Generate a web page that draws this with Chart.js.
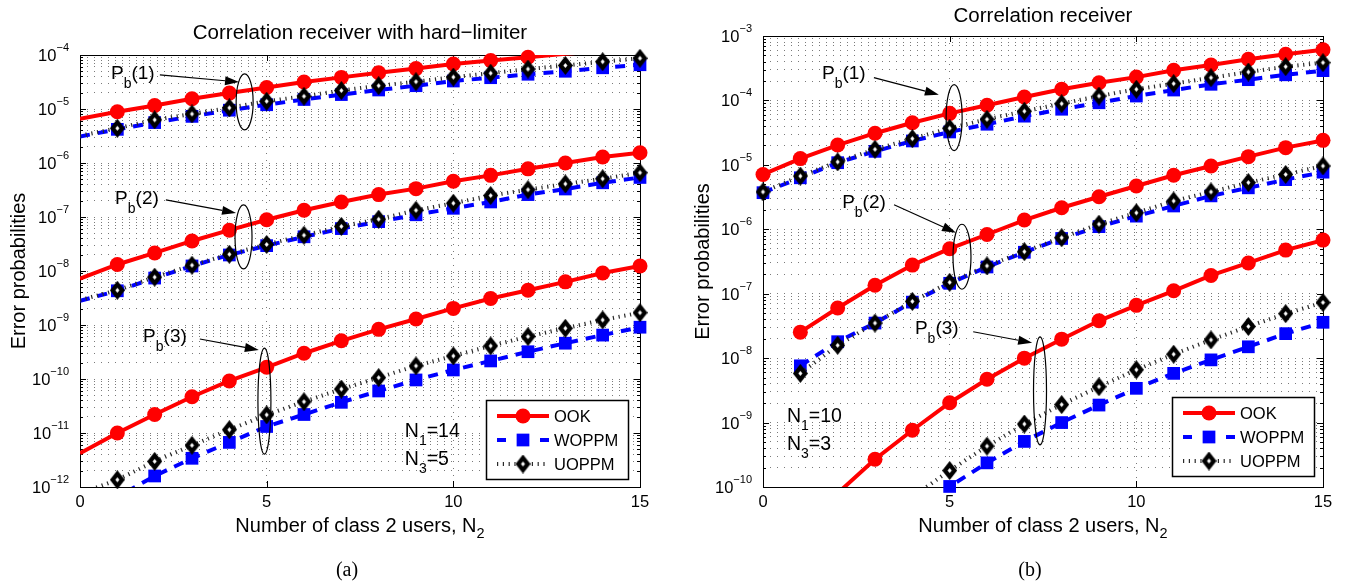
<!DOCTYPE html>
<html>
<head>
<meta charset="utf-8">
<script src="https://cdn.jsdelivr.net/npm/chart.js@4.4.0/dist/chart.umd.min.js"></script>
<style>
html,body{margin:0;padding:0;background:#fff;}
#wrap{position:relative;width:1350px;height:582px;overflow:hidden;background:#fff;}
.pane{position:absolute;top:0;width:675px;height:582px;}
canvas{display:block;}
</style>
</head>
<body>
<div id="wrap">
  <div class="pane" style="left:0"><canvas id="chartA" width="675" height="582" style="width:675px;height:582px"></canvas></div>
  <div class="pane" style="left:675px"><canvas id="chartB" width="675" height="582" style="width:675px;height:582px"></canvas></div>
</div>
<script>
// ---------- categories ----------
const N2 = [0,1,2,3,4,5,6,7,8,9,10,11,12,13,14,15];
const X_TICKS = [0,5,10,15];
const SCHEME_NAMES = ['OOK','WOPPM','UOPPM'];

// ---------- (a) Correlation receiver with hard-limiter, N1=14, N3=5 ----------
const A_Y_RANGE = [1e-12, 1e-4];
const A_OOK_1   = [6.6e-6, 8.9e-6, 1.16e-5, 1.55e-5, 1.97e-5, 2.5e-5, 3.16e-5, 3.85e-5, 4.7e-5, 5.6e-5, 6.8e-5, 7.9e-5, 9.1e-5, 1.05e-4, 1.2e-4, 1.38e-4];
const A_WOPPM_1 = [3.1e-6, 4.2e-6, 5.6e-6, 7.3e-6, 9.5e-6, 1.2e-5, 1.5e-5, 1.85e-5, 2.25e-5, 2.7e-5, 3.3e-5, 3.8e-5, 4.4e-5, 5.0e-5, 5.8e-5, 6.6e-5];
const A_UOPPM_1 = [3.2e-6, 4.4e-6, 6.3e-6, 8.1e-6, 1.05e-5, 1.39e-5, 1.72e-5, 2.2e-5, 2.7e-5, 3.2e-5, 3.9e-5, 4.6e-5, 5.5e-5, 6.4e-5, 7.5e-5, 8.7e-5];
const A_OOK_2   = [7.2e-9, 1.32e-8, 2.16e-8, 3.6e-8, 5.7e-8, 8.9e-8, 1.33e-7, 1.9e-7, 2.6e-7, 3.35e-7, 4.6e-7, 5.9e-7, 7.8e-7, 1.0e-6, 1.29e-6, 1.55e-6];
const A_WOPPM_2 = [2.8e-9, 4.3e-9, 7.4e-9, 1.24e-8, 1.98e-8, 2.95e-8, 4.3e-8, 6.1e-8, 8.2e-8, 1.1e-7, 1.45e-7, 1.9e-7, 2.6e-7, 3.3e-7, 4.3e-7, 5.4e-7];
const A_UOPPM_2 = [2.9e-9, 4.4e-9, 7.7e-9, 1.28e-8, 2.04e-8, 3.1e-8, 4.6e-8, 6.7e-8, 9.1e-8, 1.33e-7, 1.8e-7, 2.5e-7, 3.2e-7, 4.1e-7, 5.1e-7, 6.6e-7];
const A_OOK_3   = [4.2e-12, 1.0e-11, 2.2e-11, 4.7e-11, 9.2e-11, 1.65e-10, 3.0e-10, 5.1e-10, 8.3e-10, 1.29e-9, 2.03e-9, 3.1e-9, 4.4e-9, 6.3e-9, 9.2e-9, 1.24e-8];
const A_WOPPM_3 = [2.5e-13, 6.5e-13, 1.6e-12, 3.4e-12, 6.7e-12, 1.32e-11, 2.2e-11, 3.7e-11, 6.0e-11, 9.6e-11, 1.47e-10, 2.16e-10, 3.2e-10, 4.6e-10, 6.5e-10, 9.1e-10];
const A_UOPPM_3 = [7.5e-13, 1.36e-12, 2.98e-12, 5.9e-12, 1.15e-11, 2.17e-11, 3.8e-11, 6.5e-11, 1.06e-10, 1.75e-10, 2.67e-10, 4.1e-10, 6.1e-10, 8.7e-10, 1.24e-9, 1.69e-9];

// ---------- (b) Correlation receiver, N1=10, N3=3 ----------
const B_Y_RANGE = [1e-10, 1e-3];
const B_OOK_1   = [7.1e-6, 1.25e-5, 2.03e-5, 3.1e-5, 4.5e-5, 6.3e-5, 8.4e-5, 1.13e-4, 1.49e-4, 1.88e-4, 2.3e-4, 2.93e-4, 3.55e-4, 4.35e-4, 5.2e-4, 6.1e-4];
const B_WOPPM_1 = [3.7e-6, 6.3e-6, 1.08e-5, 1.62e-5, 2.35e-5, 3.24e-5, 4.27e-5, 5.7e-5, 7.3e-5, 9.2e-5, 1.17e-4, 1.45e-4, 1.78e-4, 2.1e-4, 2.5e-4, 2.9e-4];
const B_UOPPM_1 = [3.8e-6, 6.7e-6, 1.11e-5, 1.74e-5, 2.55e-5, 3.7e-5, 5.1e-5, 6.8e-5, 8.9e-5, 1.17e-4, 1.49e-4, 1.82e-4, 2.25e-4, 2.76e-4, 3.34e-4, 3.86e-4];
const B_OOK_2   = [null, 2.53e-8, 6.0e-8, 1.35e-7, 2.78e-7, 5.0e-7, 8.3e-7, 1.39e-6, 2.16e-6, 3.2e-6, 4.7e-6, 6.9e-6, 9.6e-6, 1.34e-5, 1.85e-5, 2.4e-5];
const B_WOPPM_2 = [null, 7.6e-9, 1.8e-8, 3.5e-8, 7.4e-8, 1.45e-7, 2.6e-7, 4.4e-7, 7.2e-7, 1.1e-6, 1.6e-6, 2.3e-6, 3.3e-6, 4.4e-6, 5.9e-6, 7.7e-6];
const B_UOPPM_2 = [null, 5.8e-9, 1.58e-8, 3.5e-8, 7.6e-8, 1.5e-7, 2.7e-7, 4.5e-7, 7.4e-7, 1.2e-6, 1.8e-6, 2.75e-6, 3.8e-6, 5.3e-6, 7.1e-6, 9.6e-6];
const B_OOK_3   = [null, 2.0e-11, 8.0e-11, 2.7e-10, 7.6e-10, 2.03e-9, 4.7e-9, 1.0e-8, 1.97e-8, 3.8e-8, 6.6e-8, 1.11e-7, 1.92e-7, 3.0e-7, 4.75e-7, 6.8e-7];
const B_WOPPM_3 = [null, null, null, null, 4.0e-11, 1.02e-10, 2.37e-10, 5.1e-10, 1.0e-9, 1.87e-9, 3.4e-9, 5.8e-9, 9.4e-9, 1.5e-8, 2.4e-8, 3.6e-8];
const B_UOPPM_3 = [null, null, null, null, 7.0e-11, 1.8e-10, 4.3e-10, 9.5e-10, 1.9e-9, 3.6e-9, 6.6e-9, 1.15e-8, 1.92e-8, 3.1e-8, 4.9e-8, 7.3e-8];

// ---------- styling ----------
const FONT = '"Liberation Sans", Arial, Helvetica, sans-serif';
const SERIF = '"Liberation Serif", "Times New Roman", serif';
const RED = '#ff0000', BLUE = '#0000ff', DOT = '#2a2a2a';

const diamondImg = (() => {
  const c = document.createElement('canvas'); c.width = 15; c.height = 19;
  const g = c.getContext('2d');
  g.fillStyle = '#000';
  g.beginPath(); g.moveTo(7.5,0); g.lineTo(15,9.5); g.lineTo(7.5,19); g.lineTo(0,9.5); g.closePath(); g.fill();
  g.fillStyle = '#fff';
  g.beginPath(); g.moveTo(7.5,7); g.lineTo(9.5,9.5); g.lineTo(7.5,12); g.lineTo(5.5,9.5); g.closePath(); g.fill();
  return c;
})();

const STYLE = {
  OOK:   {color: RED,  width: 4, dash: [],         pointStyle: 'circle', radius: 7.5, order: 4},
  WOPPM: {color: BLUE, width: 4, dash: [10, 8],    pointStyle: 'rect',   radius: 9,   order: 2},
  UOPPM: {color: DOT,  width: 4, dash: [1.2, 4.6], pointStyle: diamondImg, radius: 8, order: 0}
};

function rich(ctx, x, y, parts, align) {
  let total = 0;
  const ws = parts.map(p => { ctx.font = p[1] + 'px ' + FONT; const w = ctx.measureText(p[0]).width; total += w; return w; });
  let cx = align === 'right' ? x - total : (align === 'center' ? x - total / 2 : x);
  ctx.textAlign = 'left'; ctx.textBaseline = 'alphabetic';
  parts.forEach((p, i) => { ctx.font = p[1] + 'px ' + FONT; ctx.fillText(p[0], cx, y + p[2]); cx += ws[i]; });
}

function logTicks(min, max) {
  const out = [];
  const e0 = Math.round(Math.log10(min)), e1 = Math.round(Math.log10(max));
  for (let e = e0; e <= e1; e++) {
    for (let m = 1; m <= 9; m++) {
      if (e === e1 && m > 1) break;
      out.push(parseFloat((m * Math.pow(10, e)).toPrecision(3)));
    }
  }
  return out;
}

function drawMarker(ctx, name, x, y) {
  const s = STYLE[name];
  if (name === 'UOPPM') { ctx.drawImage(diamondImg, x - 7.5, y - 9.5); return; }
  ctx.fillStyle = s.color;
  if (name === 'OOK') { ctx.beginPath(); ctx.arc(x, y, s.radius, 0, Math.PI * 2); ctx.fill(); }
  else { const h = s.radius * Math.SQRT1_2; ctx.fillRect(x - h, y - h, 2 * h, 2 * h); }
}

function makeDecor(spec) {
  return {
    id: 'decor_' + spec.id,
    beforeDatasetsDraw(chart) {
      const {ctx, chartArea: a, scales: {x, y}} = chart;
      ctx.save();
      ctx.strokeStyle = '#000'; ctx.lineWidth = 1;
      ctx.beginPath();
      spec.yTicks.forEach(v => {
        const py = Math.round(y.getPixelForValue(v)) + 0.5;
        const major = Math.abs(Math.log10(v) - Math.round(Math.log10(v))) < 1e-6;
        const L = major ? 6 : 3;
        ctx.moveTo(a.left, py); ctx.lineTo(a.left + L, py);
        ctx.moveTo(a.right, py); ctx.lineTo(a.right - L, py);
      });
      X_TICKS.forEach(v => {
        const px = Math.round(x.getPixelForValue(v)) + 0.5;
        ctx.moveTo(px, a.bottom); ctx.lineTo(px, a.bottom - 6);
        ctx.moveTo(px, a.top); ctx.lineTo(px, a.top + 6);
      });
      ctx.stroke();
      ctx.strokeRect(Math.round(a.left) + 0.5, Math.round(a.top) + 0.5, Math.round(a.right - a.left), Math.round(a.bottom - a.top));
      ctx.restore();
    },
    afterDatasetsDraw(chart) {
      const {ctx, chartArea: a, scales: {x, y}} = chart;
      ctx.save();
      ctx.strokeStyle = '#000'; ctx.fillStyle = '#000'; ctx.lineWidth = 1.2;
      // ellipses
      spec.ellipses.forEach(e => {
        ctx.beginPath();
        ctx.ellipse(x.getPixelForValue(e.x), y.getPixelForValue(e.y), e.rx, e.ry, 0, 0, Math.PI * 2);
        ctx.stroke();
      });
      // arrows
      spec.arrows.forEach(r => {
        const x1 = x.getPixelForValue(r.x1), y1 = y.getPixelForValue(r.y1);
        const x2 = x.getPixelForValue(r.x2), y2 = y.getPixelForValue(r.y2);
        const ang = Math.atan2(y2 - y1, x2 - x1), L = 14, W = 4.5;
        const bx = x2 - L * Math.cos(ang), by = y2 - L * Math.sin(ang);
        ctx.beginPath(); ctx.moveTo(x1, y1); ctx.lineTo(bx, by); ctx.stroke();
        ctx.beginPath();
        ctx.moveTo(x2, y2);
        ctx.lineTo(bx + W * Math.sin(ang), by - W * Math.cos(ang));
        ctx.lineTo(bx - W * Math.sin(ang), by + W * Math.cos(ang));
        ctx.closePath(); ctx.fill();
      });
      // labels P_b(k)
      spec.labels.forEach(l => {
        rich(ctx, x.getPixelForValue(l.x), y.getPixelForValue(l.y) + 7, [['P', 19, 0], ['b', 14, 9], [l.t, 19, 0]], 'left');
      });
      // notes N1 / N3
      spec.notes.forEach(n => {
        rich(ctx, x.getPixelForValue(n.x), y.getPixelForValue(n.y) + 7, [['N', 19.5, 0], [n.sub, 14, 8], [n.t, 19.5, 0]], 'left');
      });
      // legend
      const w = 142, h = 79;
      const L = a.right - spec.legInset[0] - w, T = a.bottom - spec.legInset[1] - h;
      ctx.fillStyle = '#fff'; ctx.fillRect(L, T, w, h);
      ctx.strokeStyle = '#000'; ctx.lineWidth = 1.5; ctx.strokeRect(L + 0.5, T + 0.5, w, h);
      SCHEME_NAMES.forEach((name, i) => {
        const yy = T + 16 + 24 * i, s = STYLE[name];
        const xa = L + 11, xb = L + 63, xm = L + 37;
        ctx.strokeStyle = s.color; ctx.lineWidth = s.width;
        if (name === 'WOPPM') {
          ctx.beginPath(); ctx.moveTo(xa, yy); ctx.lineTo(xa + 9, yy); ctx.moveTo(xb - 9, yy); ctx.lineTo(xb, yy); ctx.stroke();
        } else {
          ctx.setLineDash(s.dash);
          ctx.beginPath(); ctx.moveTo(xa, yy); ctx.lineTo(xb, yy); ctx.stroke();
          ctx.setLineDash([]);
        }
        drawMarker(ctx, name, xm, yy);
        ctx.fillStyle = '#000'; ctx.font = '16.5px ' + FONT;
        ctx.textAlign = 'left'; ctx.textBaseline = 'middle';
        ctx.fillText(name, L + 68, yy + 1);
      });
      ctx.restore();
    },
    afterDraw(chart) {
      const {ctx, chartArea: a, scales: {x, y}} = chart;
      ctx.save();
      ctx.fillStyle = '#000';
      // y tick labels
      spec.yTicks.forEach(v => {
        const e = Math.round(Math.log10(v));
        if (Math.abs(Math.log10(v) - e) > 1e-6) return;
        const py = y.getPixelForValue(v);
        rich(ctx, a.left - 11, py + 6, [['10', 16.5, 0], ['\u2212' + (-e), 11, -10]], 'right');
      });
      // x tick labels
      ctx.font = '16.5px ' + FONT; ctx.textAlign = 'center'; ctx.textBaseline = 'middle';
      X_TICKS.forEach(v => ctx.fillText(String(v), x.getPixelForValue(v), a.bottom + 15));
      // x title
      const cx = (a.left + a.right) / 2;
      rich(ctx, cx, a.bottom + 45, [['Number of class 2 users, N', 20, 0], ['2', 14.5, 6]], 'center');
      // y title
      ctx.save();
      ctx.translate(spec.yTitleX, (a.top + a.bottom) / 2);
      ctx.rotate(-Math.PI / 2);
      ctx.font = '20px ' + FONT; ctx.textAlign = 'center'; ctx.textBaseline = 'middle';
      ctx.fillText('Error probabilities', 0, 0);
      ctx.restore();
      // title
      ctx.font = '20.5px ' + FONT; ctx.textAlign = 'center'; ctx.textBaseline = 'middle';
      ctx.fillText(spec.title, cx, spec.titleY);
      // caption
      ctx.font = '20px ' + SERIF; ctx.textAlign = 'center'; ctx.textBaseline = 'middle';
      ctx.fillText(spec.caption, cx - 13, 571);
      ctx.restore();
    }
  };
}

function buildChart(canvasId, spec) {
  const [ymin, ymax] = spec.range;
  spec.yTicks = logTicks(ymin, ymax);
  const datasets = [];
  spec.groups.forEach((g, gi) => {
    SCHEME_NAMES.forEach(name => {
      const arr = g[name], s = STYLE[name];
      datasets.push({
        label: name + ' Pb(' + (gi + 1) + ')',
        data: N2.map((xv, i) => ({x: xv, y: arr[i]})),
        borderColor: s.color, borderWidth: s.width, borderDash: s.dash,
        backgroundColor: s.color, pointRadius: 0, pointHoverRadius: 0,
        tension: 0, fill: false, order: s.order + 1
      });
      datasets.push({
        label: name + ' markers Pb(' + (gi + 1) + ')',
        data: N2.map((xv, i) => {
          const v = arr[i];
          const ok = i >= spec.markerFrom && v != null && v >= ymin * 0.999 && v <= ymax * 1.001;
          return {x: xv, y: ok ? v : null};
        }),
        showLine: false, clip: false,
        pointStyle: s.pointStyle, pointRadius: s.radius, pointHoverRadius: s.radius,
        pointBackgroundColor: s.color, pointBorderColor: s.color, pointBorderWidth: 0,
        order: s.order
      });
    });
  });
  return new Chart(document.getElementById(canvasId), {
    type: 'line',
    data: {datasets},
    options: {
      responsive: false, animation: false, devicePixelRatio: 1, events: [],
      layout: {padding: spec.pad},
      plugins: {legend: {display: false}, tooltip: {enabled: false}, title: {display: false}},
      scales: {
        x: {
          type: 'linear', min: 0, max: 15,
          afterBuildTicks: s => { s.ticks = X_TICKS.map(v => ({value: v})); },
          afterFit: s => { s.height = spec.xAxisH; },
          ticks: {display: false},
          grid: {color: '#7a7a7a', lineWidth: 1, drawTicks: false},
          border: {display: false, dash: [1, 6]}
        },
        y: {
          type: 'logarithmic', min: ymin, max: ymax,
          afterBuildTicks: s => { s.ticks = spec.yTicks.map(v => ({value: v})); },
          afterFit: s => { s.width = spec.yAxisW; },
          ticks: {display: false},
          grid: {color: '#7a7a7a', lineWidth: 1, drawTicks: false},
          border: {display: false, dash: [1, 6]}
        }
      }
    },
    plugins: [makeDecor(spec)]
  });
}

buildChart('chartA', {
  id: 'a', range: A_Y_RANGE, markerFrom: 1,
  groups: [
    {OOK: A_OOK_1, WOPPM: A_WOPPM_1, UOPPM: A_UOPPM_1},
    {OOK: A_OOK_2, WOPPM: A_WOPPM_2, UOPPM: A_UOPPM_2},
    {OOK: A_OOK_3, WOPPM: A_WOPPM_3, UOPPM: A_UOPPM_3}
  ],
  pad: {left: 0, right: 35, top: 55, bottom: 0}, yAxisW: 80, xAxisH: 95,
  title: 'Correlation receiver with hard\u2212limiter', titleY: 33, caption: '(a)', yTitleX: 19.5,
  legInset: [12, 8],
  ellipses: [{x: 4.41, y: 1.35e-5, rx: 8.5, ry: 28}, {x: 4.38, y: 4.27e-8, rx: 8.5, ry: 32}, {x: 4.94, y: 3.9e-11, rx: 6.5, ry: 53}],
  arrows: [{x1: 2.14, y1: 4.27e-5, x2: 4.26, y2: 3.16e-5}, {x1: 2.30, y1: 2.07e-7, x2: 4.18, y2: 1.19e-7}, {x1: 3.21, y1: 5.5e-10, x2: 4.79, y2: 3.44e-10}],
  labels: [{x: 0.83, y: 4.84e-5, t: '(1)'}, {x: 0.94, y: 2.34e-7, t: '(2)'}, {x: 1.69, y: 6.5e-10, t: '(3)'}],
  notes: [{x: 8.7, y: 1.14e-11, sub: '1', t: '=14'}, {x: 8.7, y: 3.5e-12, sub: '3', t: '=5'}]
});

buildChart('chartB', {
  id: 'b', range: B_Y_RANGE, markerFrom: 0,
  groups: [
    {OOK: B_OOK_1, WOPPM: B_WOPPM_1, UOPPM: B_UOPPM_1},
    {OOK: B_OOK_2, WOPPM: B_WOPPM_2, UOPPM: B_UOPPM_2},
    {OOK: B_OOK_3, WOPPM: B_WOPPM_3, UOPPM: B_UOPPM_3}
  ],
  pad: {left: 0, right: 27, top: 36, bottom: 0}, yAxisW: 88, xAxisH: 95,
  title: 'Correlation receiver', titleY: 16, caption: '(b)', yTitleX: 28,
  legInset: [9, 11],
  ellipses: [{x: 5.12, y: 5.42e-5, rx: 8, ry: 33}, {x: 5.33, y: 3.75e-7, rx: 9, ry: 32.5}, {x: 7.42, y: 3.1e-9, rx: 6.5, ry: 54}],
  arrows: [{x1: 2.97, y1: 2.26e-4, x2: 4.71, y2: 1.23e-4}, {x1: 3.51, y1: 2.41e-6, x2: 5.17, y2: 8.85e-7}, {x1: 5.63, y1: 2.57e-8, x2: 7.21, y2: 1.73e-8}],
  labels: [{x: 1.58, y: 2.8e-4, t: '(1)'}, {x: 2.12, y: 2.7e-6, t: '(2)'}, {x: 4.07, y: 3.06e-8, t: '(3)'}],
  notes: [{x: 0.64, y: 1.32e-9, sub: '1', t: '=10'}, {x: 0.64, y: 4.83e-10, sub: '3', t: '=3'}]
});
</script>
</body>
</html>
